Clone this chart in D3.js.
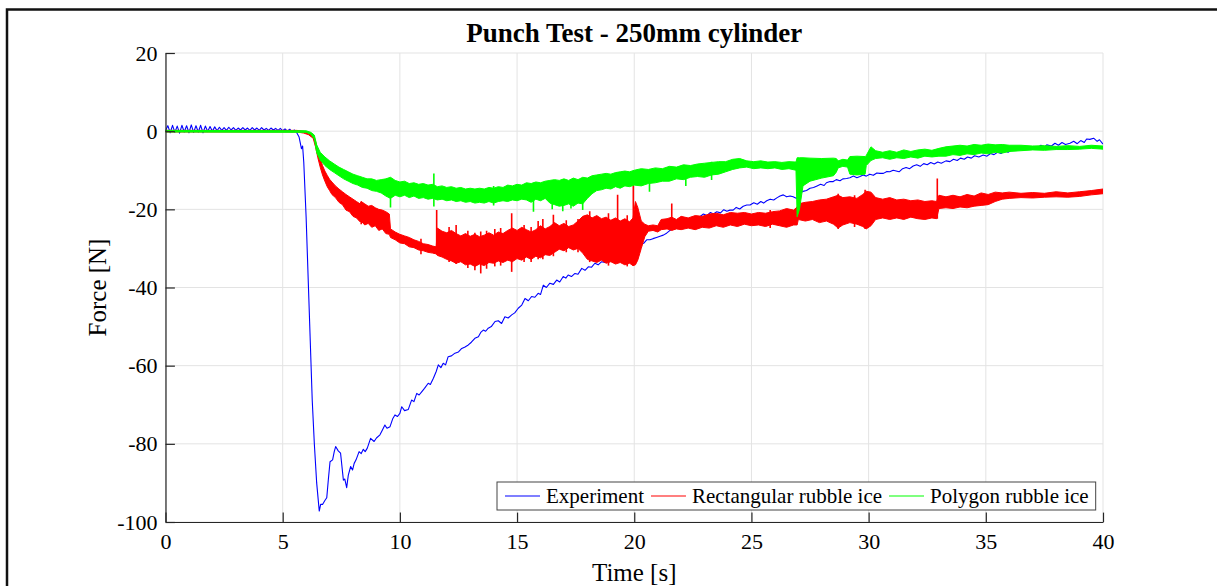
<!DOCTYPE html>
<html>
<head>
<meta charset="utf-8">
<script src="https://cdn.jsdelivr.net/npm/d3@7"></script>
<style>
  body { margin: 0; background: #fff; }
  svg { display: block; }
  text { font-family: "Liberation Serif", "Times New Roman", serif; fill: #000; }
</style>
</head>
<body>
<svg id="chart" width="1217" height="586"></svg>
<script>
// ---- labels and ticks ----
const chartTitle = "Punch Test - 250mm cylinder";
const xLabel = "Time [s]";
const yLabel = "Force [N]";
const xTicks = [0, 5, 10, 15, 20, 25, 30, 35, 40];
const yTicks = [20, 0, -20, -40, -60, -80, -100];
const seriesNames = ["Experiment", "Rectangular rubble ice", "Polygon rubble ice"];
const seriesColors = ["#0000ff", "#ff0000", "#00ff00"];

// ---- measured force, [time s, force N] ----
const experiment = [
  [0,0.2],[0.1,1.4],[0.2,-0.4],[0.3,1.5],[0.4,-0.3],[0.5,1.3],[0.6,-0.5],[0.7,1.5],[0.8,-0.2],[0.9,1.4],
  [1.0,-0.4],[1.1,1.6],[1.2,-0.3],[1.3,1.4],[1.4,-0.2],[1.5,1.5],[1.6,-0.4],[1.7,1.3],[1.8,-0.1],[1.9,1.2],
  [2.0,0.0],[2.1,1.1],[2.2,0.1],[2.3,1.0],[2.4,0.2],[2.5,0.9],[2.6,0.2],[2.7,1.0],[2.8,0.3],[2.9,0.9],
  [3.0,0.2],[3.1,0.8],[3.2,0.3],[3.3,0.9],[3.4,0.3],[3.5,0.8],[3.6,0.2],[3.7,0.9],[3.8,0.3],[3.9,0.8],
  [4.0,0.2],[4.1,0.9],[4.2,0.3],[4.3,0.7],[4.4,0.2],[4.5,0.8],[4.6,0.3],[4.7,0.7],[4.8,0.2],[4.9,0.7],
  [5.0,0.1],[5.1,0.6],[5.2,0.0],[5.3,0.5],[5.4,-0.2],[5.5,0.3],[5.6,-0.4],
  [5.7,-1.5],[5.75,-3.0],[5.8,-4.5],[5.85,-3.8],[5.9,-8],[6.0,-22],[6.1,-40],[6.2,-58],[6.26,-68.8],
  [6.35,-80],[6.45,-90],[6.56,-97.2],[6.62,-95.5],[6.7,-95.5],[6.8,-94.5],[6.88,-93.8],[6.95,-89],
  [7.02,-84.6],[7.13,-84.1],[7.2,-82],[7.26,-80.7],[7.37,-81.8],[7.47,-82.4],[7.55,-87],[7.59,-89.3],
  [7.65,-89],[7.73,-91.2],[7.8,-88],[7.9,-85.8],[7.98,-86.7],[8.05,-85],[8.13,-84.1],[8.26,-82],
  [8.35,-82.5],[8.44,-81.4],[8.52,-82],[8.61,-81.1],[8.75,-78.6],[8.9,-79.4],[9.0,-78.5],[9.15,-77.7],
  [9.25,-76.5],[9.36,-75.2],[9.45,-76],[9.58,-75.6],[9.7,-73.5],[9.79,-72.6],[9.9,-73],[10.0,-72.2],
  [10.08,-70.5],[10.2,-71.5],[10.36,-71.2],[10.5,-68.8],[10.6,-69.2],[10.72,-67.1],[10.82,-67.5],
  [10.93,-66.7],[11.05,-65.8],[11.21,-64.5],[11.3,-64.8],[11.43,-63.2],[11.55,-61.5],[11.64,-59.8],
  [11.75,-60.5],[11.85,-59.4],[11.95,-59.8],[12.06,-57.7],[12.2,-57.5],[12.35,-56.8],[12.5,-56.5],
  [12.64,-55.6],[12.78,-55.2],[12.92,-54.7],[13.05,-54],[13.2,-53],[13.35,-52.6],[13.45,-51.5],
  [13.56,-50.9],[13.66,-51.2],[13.77,-50.4],[13.9,-50],[14.06,-48.7],[14.2,-48.5],[14.34,-49.2],
  [14.48,-47.5],[14.62,-47.8],[14.77,-47],[14.9,-46.5],[15.05,-45.3],[15.2,-44.5],[15.34,-42.8],
  [15.48,-43.4],[15.62,-42.3],[15.76,-42.5],[15.9,-41.5],[16.0,-41.8],[16.12,-39.4],[16.25,-40],
  [16.4,-38.9],[16.55,-39.2],[16.69,-38.1],[16.82,-38.6],[16.97,-37.2],[17.08,-37.6],[17.18,-36.8],
  [17.32,-37.2],[17.47,-36.4],[17.6,-36.6],[17.76,-35.1],[17.9,-35.6],[18.04,-34.7],[18.18,-34.8],
  [18.32,-33.8],[18.46,-34.2],[18.61,-33.4],[18.75,-33.6],[18.9,-32.9],[19.05,-33.2],[19.2,-32.3],
  [19.35,-32.6],[19.5,-32.0],[19.67,-32.1],[19.8,-31.2],[19.9,-30.5],[20.0,-30.0],[20.1,-29.6],
  [20.25,-29.0],[20.4,-28.7],[20.53,-27.8],[20.67,-27.8],[20.8,-27.5],[20.95,-27.2],[21.1,-26.9],
  [21.24,-26.6],[21.38,-26.1],[21.5,-25.5],[21.65,-25.0],[21.8,-24.8],[21.95,-24.0],[22.1,-23.6],
  [22.25,-23.3],[22.4,-22.5],[22.52,-23.0],[22.66,-22.3],[22.8,-21.9],[22.95,-21.2],[23.1,-21.6],
  [23.25,-20.8],[23.38,-21.2],[23.52,-20.6],[23.68,-20.9],[23.82,-20.1],[23.95,-20.5],[24.08,-20.2],
  [24.22,-20.2],[24.35,-19.5],[24.5,-19.9],[24.65,-19.2],[24.8,-18.9],[24.94,-18.9],[25.1,-18.3],
  [25.25,-18.7],[25.4,-18.0],[25.52,-18.4],[25.65,-17.8],[25.8,-17.4],[25.95,-17.6],[26.1,-17.0],
  [26.22,-16.6],[26.36,-16.3],[26.5,-16.8],[26.65,-16.6],[26.78,-16.8],[26.93,-17.2],[27.05,-16.0],
  [27.2,-15.4],[27.35,-15.2],[27.5,-14.6],[27.65,-14.4],[27.8,-14.0],[27.95,-13.6],[28.1,-13.9],
  [28.2,-13.2],[28.35,-12.9],[28.49,-12.9],[28.62,-12.4],[28.78,-12.7],[28.9,-12.2],[29.06,-12.1],
  [29.2,-11.9],[29.35,-11.5],[29.5,-11.9],[29.63,-11.6],[29.77,-11.2],[29.9,-11.5],[30.05,-11.0],
  [30.2,-11.3],[30.35,-10.7],[30.48,-10.8],[30.63,-10.8],[30.78,-10.3],[30.9,-10.4],[31.05,-10.0],
  [31.3,-10.4],[31.45,-9.6],[31.6,-9.3],[31.75,-9.6],[31.9,-8.9],[32.05,-8.6],[32.2,-9.0],[32.35,-8.3],
  [32.5,-8.6],[32.65,-8.0],[32.8,-8.4],[32.95,-7.9],[33.1,-8.2],[33.3,-7.6],[33.47,-7.8],[33.62,-7.2],
  [33.78,-7.5],[33.92,-6.9],[34.08,-7.2],[34.22,-6.6],[34.38,-6.9],[34.52,-6.3],[34.7,-6.6],[34.89,-6.1],
  [35.05,-6.4],[35.2,-5.7],[35.35,-6.0],[35.5,-5.4],[35.65,-5.7],[35.8,-5.0],[35.95,-5.4],[36.1,-4.8],
  [36.31,-4.8],[36.45,-4.4],[36.6,-4.9],[36.75,-4.2],[36.9,-4.6],[37.05,-3.9],[37.2,-4.3],[37.35,-3.6],
  [37.5,-4.0],[37.6,-3.5],[37.8,-3.8],[37.95,-3.1],[38.1,-3.6],[38.25,-2.9],[38.4,-3.4],[38.59,-3.1],
  [38.75,-2.6],[38.9,-3.2],[39.05,-2.4],[39.2,-2.9],[39.3,-2.0],[39.44,-2.1],[39.6,-1.8],[39.75,-2.6],
  [39.85,-2.2],[40.0,-3.3]
];

// ---- simulated force bands, [time s, upper N, lower N] ----
const rectangularBand = [
  [0,0.2,-0.2],[5.6,0.2,-0.2],[5.9,0,-0.5],[6.1,-0.3,-0.9],[6.3,-0.8,-1.8],[6.4,-2.5,-4.0],
  [6.5,-5.0,-6.8],[6.6,-7.0,-9.2],[6.7,-8.8,-11.2],[6.8,-10.2,-12.8],[6.9,-11.3,-14.2],[7.0,-12.3,-15.2],
  [7.1,-13.0,-16.2],[7.25,-14.0,-17.0],[7.4,-14.8,-18.2],[7.55,-15.5,-18.8],[7.7,-16.2,-20.2],
  [7.85,-16.8,-20.6],[8.0,-17.4,-21.8],[8.15,-18.0,-22.2],[8.3,-18.6,-23.2],[8.35,-18.0,-23.0],
  [8.5,-18.6,-24.0],[8.65,-19.2,-23.6],[8.8,-19.0,-24.6],[8.95,-19.6,-24.2],[9.1,-20.0,-25.4],
  [9.25,-20.2,-25.0],[9.4,-20.6,-26.2],[9.55,-21.2,-26.4],[9.6,-25.0,-27.2],[9.8,-25.8,-27.8],
  [10.0,-26.4,-28.6],[10.2,-26.8,-28.8],[10.4,-27.2,-29.6],[10.6,-27.8,-29.8],[10.8,-28.2,-30.4],
  [11.0,-28.8,-30.6],[11.2,-29.0,-31.0],[11.4,-29.4,-31.2],[11.55,-29.6,-31.4],[11.6,-24.8,-31.8],
  [11.8,-25.6,-32.2],[12.0,-26.0,-32.8],[12.2,-25.4,-33.2],[12.4,-26.2,-33.8],[12.6,-26.8,-33.4],
  [12.8,-26.2,-34.2],[13.0,-26.9,-34.0],[13.2,-26.4,-34.6],[13.4,-27.0,-34.0],[13.6,-26.6,-34.4],
  [13.8,-26.0,-33.6],[14.0,-26.6,-33.8],[14.2,-25.8,-33.2],[14.4,-26.2,-33.6],[14.6,-25.4,-33.0],
  [14.8,-24.8,-33.4],[15.0,-25.4,-32.6],[15.2,-24.6,-33.0],[15.4,-25.2,-32.2],[15.6,-25.8,-32.8],
  [15.8,-25.2,-32.0],[16.0,-24.2,-32.4],[16.2,-25.0,-31.6],[16.4,-24.4,-31.8],[16.6,-23.4,-31.0],
  [16.8,-24.2,-30.2],[17.0,-23.6,-30.6],[17.2,-24.4,-29.8],[17.4,-24.0,-30.4],[17.6,-23.0,-30.0],
  [17.8,-21.8,-31.2],[18.0,-21.4,-32.8],[18.2,-22.2,-33.2],[18.4,-21.6,-33.6],[18.6,-22.4,-33.0],
  [18.8,-22.0,-33.8],[19.0,-22.8,-33.4],[19.2,-22.2,-34.0],[19.4,-23.0,-33.6],[19.6,-22.4,-34.2],
  [19.8,-23.2,-33.8],[19.95,-22.2,-34.4],[20.05,-18.0,-34.2],[20.15,-19.5,-33.0],[20.3,-23.0,-30.0],
  [20.45,-23.8,-27.0],[20.6,-24.2,-25.6],[20.8,-24.0,-25.4],[21.0,-24.2,-25.8],[21.15,-22.6,-25.2],
  [21.4,-22.4,-25.0],[21.6,-22.0,-25.4],[21.8,-22.6,-25.0],[22.0,-21.8,-25.2],[22.3,-22.2,-24.8],
  [22.6,-21.6,-25.2],[22.9,-21.8,-24.6],[23.2,-21.2,-24.8],[23.5,-21.0,-24.2],[23.8,-21.4,-24.6],
  [24.1,-20.8,-24.0],[24.4,-21.0,-24.4],[24.7,-20.8,-23.8],[25.0,-21.2,-24.2],[25.3,-20.8,-24.0],
  [25.6,-21.0,-24.4],[25.9,-20.6,-23.8],[26.2,-20.4,-24.2],[26.5,-19.8,-24.6],[26.8,-20.2,-24.0],
  [26.95,-19.4,-24.0],[27.0,-18.6,-22.6],[27.3,-18.2,-23.0],[27.6,-18.0,-22.6],[27.9,-17.6,-23.4],
  [28.2,-17.4,-23.0],[28.5,-16.8,-23.8],[28.7,-16.4,-24.8],[28.9,-17.0,-24.0],[29.2,-16.8,-23.4],
  [29.5,-17.2,-23.8],[29.75,-16.2,-24.4],[29.9,-15.4,-25.0],[30.1,-15.6,-24.2],[30.3,-17.0,-22.6],
  [30.6,-17.4,-22.2],[30.9,-17.0,-22.6],[31.2,-17.6,-22.2],[31.5,-17.4,-22.6],[31.8,-17.8,-22.0],
  [32.1,-17.6,-22.4],[32.4,-18.0,-22.6],[32.7,-17.8,-22.2],[32.9,-18.0,-22.4],[33.0,-16.4,-19.8],
  [33.3,-16.8,-19.6],[33.6,-16.4,-19.8],[33.9,-16.8,-19.4],[34.2,-16.2,-19.6],[34.5,-16.6,-19.2],
  [34.8,-15.8,-19.0],[35.1,-16.2,-18.8],[35.4,-15.6,-18.0],[35.7,-15.8,-17.4],[36.0,-15.6,-17.2],
  [36.5,-15.9,-17.0],[37.0,-15.7,-17.1],[37.5,-15.9,-16.9],[38.0,-15.5,-16.8],[38.5,-15.8,-16.9],
  [39.0,-15.5,-16.7],[39.5,-15.2,-16.3],[40.0,-14.8,-16.0]
];
const polygonBand = [
  [0,0.2,-0.2],[6.0,0.1,-0.3],[6.2,-0.3,-0.8],[6.35,-1.0,-2.0],[6.45,-3.5,-5.5],[6.6,-5.4,-7.4],
  [6.8,-6.6,-8.8],[7.0,-7.6,-9.8],[7.2,-8.4,-10.6],[7.4,-9.2,-11.4],[7.6,-9.8,-12.2],[7.8,-10.4,-12.8],
  [8.0,-11.0,-13.4],[8.2,-11.4,-13.8],[8.4,-11.8,-14.4],[8.6,-12.2,-14.6],[8.8,-12.2,-15.2],
  [9.0,-12.6,-15.4],[9.2,-12.4,-15.8],[9.4,-12.2,-16.6],[9.6,-11.8,-17.2],[9.8,-12.6,-16.4],
  [10.0,-13.0,-16.8],[10.2,-12.8,-16.4],[10.4,-13.4,-17.0],[10.6,-13.2,-16.6],[10.8,-13.6,-17.2],
  [11.0,-13.4,-17.0],[11.2,-13.8,-17.4],[11.4,-13.6,-17.2],[11.6,-14.2,-17.6],[11.8,-14.0,-17.4],
  [12.0,-14.4,-17.8],[12.2,-14.2,-17.6],[12.4,-14.6,-18.0],[12.6,-14.4,-17.8],[12.8,-14.8,-18.2],
  [13.0,-14.6,-18.0],[13.2,-14.8,-18.4],[13.4,-14.6,-18.2],[13.6,-14.8,-18.4],[13.8,-14.4,-18.0],
  [14.0,-14.6,-18.4],[14.2,-14.2,-18.0],[14.4,-14.4,-17.8],[14.6,-13.8,-18.0],[14.8,-14.0,-17.6],
  [15.0,-13.6,-17.8],[15.2,-13.8,-17.4],[15.4,-13.2,-17.6],[15.6,-13.4,-18.2],[15.8,-13.0,-17.4],
  [16.0,-13.2,-17.8],[16.2,-12.8,-17.2],[16.4,-12.6,-18.4],[16.6,-12.4,-18.8],[16.8,-12.6,-19.2],
  [17.0,-12.2,-19.0],[17.2,-12.6,-18.6],[17.4,-12.0,-19.2],[17.6,-12.4,-18.4],[17.8,-11.8,-18.6],
  [18.0,-12.0,-17.2],[18.2,-11.4,-16.0],[18.4,-11.2,-15.2],[18.6,-11.0,-15.0],[18.8,-10.8,-14.6],
  [19.0,-11.0,-14.8],[19.2,-10.6,-14.2],[19.4,-10.4,-14.6],[19.6,-10.2,-14.0],[19.8,-10.4,-14.2],
  [20.0,-10.0,-13.8],[20.3,-9.6,-14.0],[20.6,-9.8,-13.4],[20.9,-9.4,-13.2],[21.2,-9.6,-12.8],
  [21.5,-9.0,-12.8],[21.8,-9.2,-12.2],[22.1,-8.6,-12.4],[22.4,-8.8,-11.8],[22.7,-8.4,-11.6],
  [23.0,-8.2,-11.8],[23.3,-8.0,-11.2],[23.6,-7.8,-11.0],[23.9,-7.8,-10.4],[24.2,-7.2,-9.8],
  [24.5,-7.0,-9.4],[24.8,-7.6,-9.2],[25.1,-7.8,-9.6],[25.4,-7.6,-9.4],[25.7,-7.9,-9.6],
  [26.0,-7.8,-9.4],[26.3,-8.0,-9.8],[26.6,-7.8,-9.6],[26.9,-7.9,-10.0],
  [26.95,-6.8,-21.9],[27.05,-6.8,-20.0],[27.2,-6.8,-14.0],[27.5,-6.9,-12.8],[28.0,-7.0,-12.0],
  [28.5,-6.9,-11.4],[28.62,-7.0,-10.5],[28.7,-7.6,-9.4],[28.9,-7.2,-9.0],[29.1,-7.4,-9.2],
  [29.2,-6.5,-11.0],[29.5,-6.4,-11.2],[29.85,-6.5,-11.0],[29.9,-6.2,-8.8],[30.1,-4.0,-7.5],
  [30.3,-5.0,-7.0],[30.6,-5.4,-6.8],[30.9,-5.0,-7.2],[31.2,-5.4,-6.8],[31.5,-4.8,-7.0],
  [31.8,-5.2,-6.6],[32.1,-4.8,-6.9],[32.4,-4.6,-6.4],[32.7,-4.9,-6.6],[33.0,-4.4,-6.4],
  [33.3,-4.0,-6.4],[33.6,-3.8,-6.0],[33.9,-3.6,-6.2],[34.2,-3.8,-5.8],[34.5,-3.4,-6.0],
  [34.8,-3.6,-5.6],[35.1,-3.3,-5.8],[35.4,-3.5,-5.4],[35.7,-3.4,-5.6],[36.0,-3.6,-5.2],
  [36.5,-3.6,-5.0],[37.0,-3.8,-4.8],[37.5,-3.7,-4.9],[38.0,-3.9,-4.7],[38.5,-3.7,-4.7],
  [39.0,-3.9,-4.6],[39.5,-3.6,-4.4],[40.0,-3.8,-4.6]
];
// isolated load peaks, [time s, upper N, lower N]
const rectangularSpikes = [
  [8.35,-18.0,-23.8],[10.9,-27.5,-31.5],[11.57,-20.2,-31.0],[12.1,-24.5,-33.5],[12.4,-24.0,-34.0],
  [12.9,-25.5,-35.0],[13.2,-26.0,-35.6],[13.45,-25.7,-36.4],[13.7,-25.5,-35.2],[14.05,-25.0,-34.6],
  [14.3,-24.8,-34.4],[14.77,-21.0,-36.0],[15.3,-24.0,-33.5],[15.6,-24.5,-33.5],[15.9,-23.0,-32.8],
  [16.1,-22.5,-32.8],[16.55,-21.4,-32.0],[17.1,-22.8,-31.0],[17.6,-22.5,-31.0],[18.1,-20.5,-33.5],
  [18.9,-21.0,-34.4],[19.29,-16.3,-33.5],[19.7,-21.5,-34.6],[19.96,-10.5,-34.5],[21.6,-18.5,-25.0],
  [25.8,-20.2,-24.8],[28.7,-16.0,-25.0],[29.4,-16.4,-24.5],[29.85,-15.0,-25.0],[32.93,-12.1,-22.4]
];
const polygonSpikes = [
  [9.6,-12.0,-19.5],[11.45,-10.8,-19.3],[14.0,-14.0,-19.0],[15.7,-13.2,-20.6],[16.5,-12.5,-20.0],
  [16.95,-12.4,-20.5],[17.3,-12.4,-19.8],[17.8,-12.0,-20.2],[20.65,-9.8,-15.5],[22.2,-8.8,-14.0],
  [23.3,-7.8,-12.5]
];

// ---- layout ----
const W = 1217, H = 586;
const plot = { left: 165.5, right: 1103, top: 53, bottom: 522 };
const svg = d3.select("#chart");

const x = d3.scaleLinear().domain([0, 40]).range([plot.left, plot.right]);
const y = d3.scaleLinear().domain([-100, 20]).range([plot.bottom, plot.top]);

// figure frame
svg.append("path")
  .attr("d", `M7,${H} V9.5 H${W}`)
  .attr("fill", "none").attr("stroke", "#111").attr("stroke-width", 2.5);

// grid
const grid = svg.append("g").attr("stroke", "#e3e3e3").attr("stroke-width", 1);
grid.selectAll(".gx").data(xTicks).join("line")
  .attr("x1", d => x(d)).attr("x2", d => x(d))
  .attr("y1", plot.top).attr("y2", plot.bottom);
grid.selectAll(".gy").data(yTicks).join("line")
  .attr("x1", plot.left).attr("x2", plot.right)
  .attr("y1", d => y(d)).attr("y2", d => y(d));

// data
svg.append("clipPath").attr("id", "plotClip").append("rect")
  .attr("x", plot.left).attr("y", plot.top)
  .attr("width", plot.right - plot.left).attr("height", plot.bottom - plot.top);
const layer = svg.append("g").attr("clip-path", "url(#plotClip)");

const line = d3.line().x(d => x(d[0])).y(d => y(d[1]));
const band = d3.area().x(d => x(d[0])).y0(d => y(d[2])).y1(d => y(d[1]));

layer.append("path").datum(experiment)
  .attr("d", line).attr("fill", "none")
  .attr("stroke", seriesColors[0]).attr("stroke-width", 1.1).attr("stroke-linejoin", "round");

function drawBand(data, spikes, color) {
  layer.append("path").datum(data)
    .attr("d", band).attr("fill", color)
    .attr("stroke", color).attr("stroke-width", 1).attr("stroke-linejoin", "round");
  layer.append("g").selectAll("line").data(spikes).join("line")
    .attr("x1", d => x(d[0])).attr("x2", d => x(d[0]))
    .attr("y1", d => y(d[1])).attr("y2", d => y(d[2]))
    .attr("stroke", color).attr("stroke-width", 1.6);
}
drawBand(rectangularBand, rectangularSpikes, seriesColors[1]);
drawBand(polygonBand, polygonSpikes, seriesColors[2]);

// axes
const tickLen = 9.4;
const fmt = d => String(d);
const xAxis = svg.append("g").attr("transform", `translate(0,${plot.bottom})`)
  .call(d3.axisBottom(x).tickValues(xTicks).tickFormat(fmt)
    .tickSize(-tickLen).tickSizeOuter(0).tickPadding(11));
const yAxis = svg.append("g").attr("transform", `translate(${plot.left},0)`)
  .call(d3.axisLeft(y).tickValues(yTicks).tickFormat(fmt)
    .tickSize(-tickLen).tickSizeOuter(0).tickPadding(8));
[xAxis, yAxis].forEach(a => {
  a.select(".domain").attr("stroke", "#262626").attr("stroke-width", 1.2);
  a.selectAll(".tick line").attr("stroke", "#262626").attr("stroke-width", 1.2);
  a.selectAll(".tick text").attr("font-size", 22).attr("fill", "#262626")
    .style("font-family", '"Liberation Serif", serif');
});

// titles
svg.append("text").attr("x", (plot.left + plot.right) / 2).attr("y", 42)
  .attr("text-anchor", "middle").attr("font-size", 27).attr("font-weight", "bold")
  .text(chartTitle);
svg.append("text").attr("x", (plot.left + plot.right) / 2).attr("y", 581)
  .attr("text-anchor", "middle").attr("font-size", 25).attr("fill", "#262626")
  .text(xLabel);
svg.append("text")
  .attr("transform", `translate(106,${(plot.top + plot.bottom) / 2}) rotate(-90)`)
  .attr("text-anchor", "middle").attr("font-size", 25).attr("fill", "#262626")
  .text(yLabel);

// legend
const legend = svg.append("g");
const legBox = legend.append("rect").attr("fill", "#fff").attr("stroke", "#444").attr("stroke-width", 1);
let lx = 505;
const ly = 496;
seriesNames.forEach((name, i) => {
  legend.append("line").attr("x1", lx).attr("x2", lx + 35).attr("y1", ly).attr("y2", ly)
    .attr("stroke", seriesColors[i]).attr("stroke-width", 1.2);
  const t = legend.append("text").attr("x", lx + 41).attr("y", ly + 7)
    .attr("font-size", 21).text(name);
  lx += 41 + t.node().getComputedTextLength() + 7;
});
legBox.attr("x", 497).attr("y", 482).attr("width", lx - 497).attr("height", 28);
</script>
</body>
</html>
